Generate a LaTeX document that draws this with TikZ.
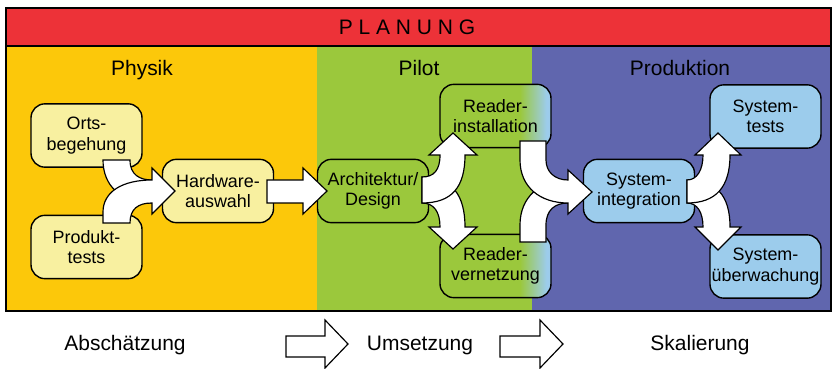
\documentclass[tikz,border=0pt]{standalone}
\usepackage{fontspec}
\setmainfont{Liberation Sans}
\usepackage{xcolor}

\definecolor{planred}{RGB}{237,50,56}
\definecolor{physyellow}{RGB}{252,200,10}
\definecolor{pilotgreen}{RGB}{155,200,60}
\definecolor{prodblue}{RGB}{96,102,174}
\definecolor{boxyellow}{RGB}{248,240,160}
\definecolor{boxgreen}{RGB}{155,200,60}
\definecolor{boxblue}{RGB}{156,204,236}

\newcommand{\boxfont}{\fontsize{15.3}{17.5}\selectfont}
\newcommand{\headfont}{\fontsize{17.9}{21}\selectfont}

\pgfdeclarehorizontalshading{readerfade}{100bp}{color(0bp)=(boxgreen); color(61bp)=(boxgreen); color(73bp)=(boxblue); color(100bp)=(boxblue)}

\tikzset{
    phasebox/.style={draw=black, line width=1.2pt, rounded corners=0.42cm, minimum width=3.33cm, minimum height=1.9cm, align=center, inner sep=1pt, font=\boxfont},
    ybox/.style={phasebox, fill=boxyellow},
    gbox/.style={phasebox, fill=boxgreen},
    rbox/.style={phasebox, shade, shading=readerfade},
    bbox/.style={phasebox, fill=boxblue},
    headtext/.style={font=\headfont, anchor=base, inner sep=0pt},
    blockarrow/.style={draw=black, fill=white, line width=1pt},
}

\begin{document}
\begin{tikzpicture}[x=0.03cm, y=-0.03cm]
            \useasboundingbox (0,0) rectangle (834,369);

            % phases
            \fill[planred] (6,8) rectangle (831,46);
            \fill[physyellow] (6,46) rectangle (317,311);
            \fill[pilotgreen] (317,46) rectangle (532,311);
            \fill[prodblue] (532,46) rectangle (831,311);
            \draw[line width=1pt] (6,8) rectangle (831,311);
            \draw[line width=1pt] (6,46) -- (831,46);

            \node[headtext] (planung) at (407,35) {P L A N U N G};
            \node[headtext] (physik) at (142,76) {Physik};
            \node[headtext] (pilot) at (419,76) {Pilot};
            \node[headtext] (produktion) at (680,76) {Produktion};

            % steps
            \node[ybox] (orts) at (86.5,135.5) {Orts-\\begehung};
            \node[ybox] (produkt) at (86.5,247) {Produkt-\\tests};
            \node[ybox] (hardware) at (218,191) {Hardware-\\auswahl};
            \node[gbox] (arch) at (373,191) {Architektur/\\Design};
            \node[rbox] (install) at (495.5,116) {Reader-\\installation};
            \node[rbox] (vernetz) at (495.5,266) {Reader-\\vernetzung};
            \node[bbox] (integr) at (639,191) {System-\\integration};
            \node[bbox] (systests) at (765.5,116.5) {System-\\tests};
            \node[bbox] (sysueber) at (765.5,266.5) {System-\\überwachung};

            % arrows
            \draw[blockarrow] (103,160) -- (130,160) .. controls (130,175) and (140,180) .. (152,180) -- (152,203) .. controls (120,203) and (103,185) .. (103,160) -- cycle;
            \draw[blockarrow] (103,223) -- (103,212) .. controls (103,192) and (122,180) .. (152,180) -- (152,168) -- (175,191) -- (152,214) -- (152,203) .. controls (138,203) and (130,209) .. (130,223) -- cycle;

            \draw[blockarrow] (267,180) -- (303,180) -- (303,168) -- (327,191) -- (303,214) -- (303,203) -- (267,203) -- cycle;

            \draw[blockarrow] (422,177) .. controls (452,177) and (465,195) .. (465,227) -- (477,227) -- (453,249) -- (429,227) -- (440,227) .. controls (440,212) and (434,203) .. (422,203) -- cycle;
            \draw[blockarrow] (422,203) .. controls (452,203) and (465,187) .. (465,155) -- (477,155) -- (453,133) -- (429,155) -- (440,155) .. controls (440,170) and (434,177) .. (422,177) -- cycle;

            \draw[blockarrow] (520,242) -- (520,225) .. controls (520,197) and (540,180) .. (568,180) -- (568,203) .. controls (555,203) and (546,210) .. (546,225) -- (546,242) -- cycle;
            \draw[blockarrow] (520,141) -- (546,141) -- (546,160) .. controls (546,172) and (555,180) .. (568,180) -- (568,170) -- (592,192) -- (568,214) -- (568,203) .. controls (540,203) and (520,187) .. (520,160) -- cycle;

            \draw[blockarrow] (687,180) .. controls (716,180) and (730,195) .. (730,227) -- (741,227) -- (718,250) -- (695,227) -- (703,227) .. controls (703,212) and (697,203) .. (687,203) -- cycle;
            \draw[blockarrow] (687,203) .. controls (716,203) and (730,187) .. (730,155) -- (741,155) -- (718,133) -- (695,155) -- (703,155) .. controls (703,170) and (697,180) .. (687,180) -- cycle;

            % legend
            \node[headtext] (abschaetz) at (125,350) {Abschätzung};
            \node[headtext] (umsetz) at (420,350) {Umsetzung};
            \node[headtext] (skalier) at (700,350) {Skalierung};
            \draw[blockarrow] (286,336) -- (325,336) -- (325,320) -- (348,344) -- (325,368) -- (325,357) -- (286,357) -- cycle;
            \draw[blockarrow] (500,336) -- (540,336) -- (540,320) -- (563,344) -- (540,368) -- (540,357) -- (500,357) -- cycle;
        \end{tikzpicture}
\end{document}
